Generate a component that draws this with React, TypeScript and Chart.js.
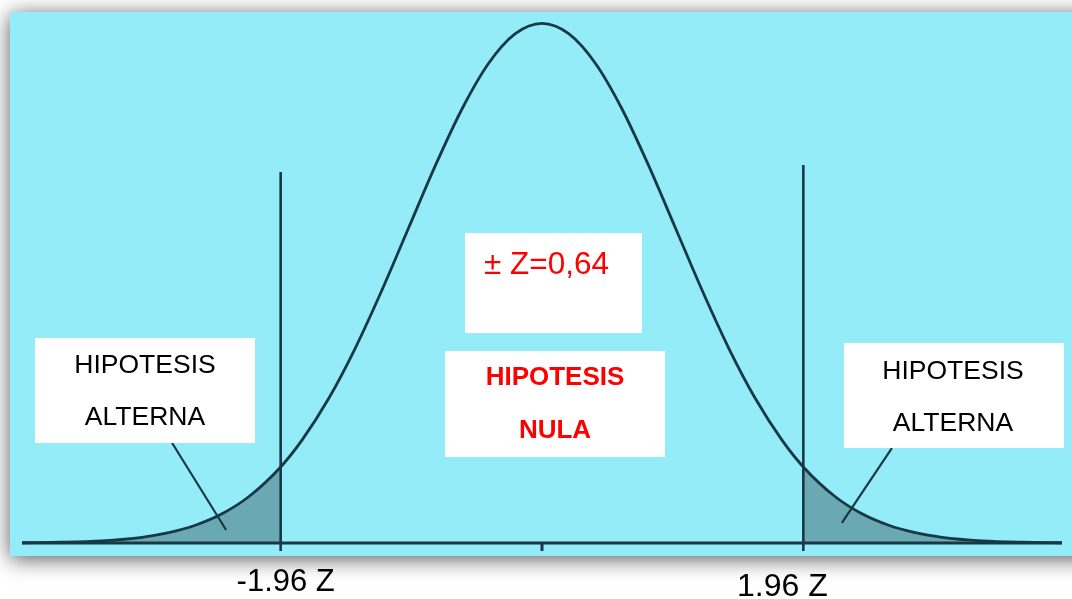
import { useEffect, useRef } from "react";
import { Chart, registerables } from "chart.js";

Chart.register(...registerables);

// ---- data ----
const zValues = [
  -3.9, -3.6, -3.3, -3.0, -2.8, -2.6, -2.4, -2.2, -1.96, -1.8, -1.6, -1.4, -1.2, -1.0, -0.8, -0.6, -0.4, -0.2,
  0,
  0.2, 0.4, 0.6, 0.8, 1.0, 1.2, 1.4, 1.6, 1.8, 1.96, 2.2, 2.4, 2.6, 2.8, 3.0, 3.3, 3.6, 3.9,
];
const density = [
  0.0002, 0.0006, 0.0017, 0.0044, 0.0079, 0.0136, 0.0224, 0.0355, 0.0584, 0.079, 0.1109, 0.1497, 0.1942, 0.242, 0.2897, 0.3332, 0.3683, 0.391,
  0.3989,
  0.391, 0.3683, 0.3332, 0.2897, 0.242, 0.1942, 0.1497, 0.1109, 0.079, 0.0584, 0.0355, 0.0224, 0.0136, 0.0079, 0.0044, 0.0017, 0.0006, 0.0002,
];
const criticalZ = [-1.96, 1.96];
const criticalLabels = ["-1.96 Z", "1.96 Z"];
const criticalLineTop = [0.2848, 0.2902];
const tickBottom = -0.0061;
const leftPointer = [
  { x: -2.774, y: 0.0768 },
  { x: -2.369, y: 0.01 },
];
const rightPointer = [
  { x: 2.624, y: 0.0729 },
  { x: 2.249, y: 0.0154 },
];
const alternaText = ["HIPOTESIS", "ALTERNA"];
const nulaText = ["HIPOTESIS", "NULA"];
const statText = "± Z=0,64";

// ---- styles ----
const BG = "#94ecf8";
const INK = "#163945";
const SHADE = "#6aa8b4";
const FONT = "'Liberation Sans', Arial, sans-serif";

const curve = zValues.map((z, i) => ({ x: z, y: density[i] }));
const leftTail = curve.filter((p) => p.x <= criticalZ[0] + 1e-9);
const rightTail = curve.filter((p) => p.x >= criticalZ[1] - 1e-9);

const bgPlugin = {
  id: "bgPanel",
  beforeDraw(chart: any) {
    const ctx = chart.ctx as CanvasRenderingContext2D;
    ctx.save();
    ctx.fillStyle = "#ffffff";
    ctx.fillRect(0, 0, chart.width, chart.height);
    ctx.shadowColor = "rgba(0,0,0,0.65)";
    ctx.shadowBlur = 20;
    ctx.shadowOffsetX = 0;
    ctx.shadowOffsetY = 3;
    ctx.fillStyle = BG;
    ctx.fillRect(10, 12, 1100, 544);
    ctx.restore();
  },
};

function box(ctx: CanvasRenderingContext2D, x: number, y: number, w: number, h: number) {
  ctx.fillStyle = "#ffffff";
  ctx.fillRect(x, y, w, h);
}

const labelPlugin = {
  id: "labels",
  afterDatasetsDraw(chart: any) {
    const ctx = chart.ctx as CanvasRenderingContext2D;
    const xs = chart.scales.x;
    ctx.save();
    ctx.textBaseline = "alphabetic";

    // left alternative box
    box(ctx, 35, 338, 220, 105);
    ctx.fillStyle = "#000000";
    ctx.textAlign = "center";
    ctx.font = `26.5px ${FONT}`;
    ctx.fillText(alternaText[0], 145, 373);
    ctx.fillText(alternaText[1], 145, 425);

    // right alternative box
    box(ctx, 844, 343, 220, 105);
    ctx.fillStyle = "#000000";
    ctx.fillText(alternaText[0], 953, 379);
    ctx.fillText(alternaText[1], 953, 431);

    // statistic box
    box(ctx, 465, 233, 177, 100);
    ctx.fillStyle = "#ff0000";
    ctx.textAlign = "left";
    ctx.font = `31.5px ${FONT}`;
    ctx.fillText(statText, 484, 274);

    // null box
    box(ctx, 445, 351, 220, 106);
    ctx.fillStyle = "#ff0000";
    ctx.textAlign = "center";
    ctx.font = `bold 26px ${FONT}`;
    ctx.fillText(nulaText[0], 555, 385);
    ctx.fillText(nulaText[1], 555, 438);

    // critical value labels
    ctx.fillStyle = "#000000";
    ctx.font = `31px ${FONT}`;
    ctx.fillText(criticalLabels[0], xs.getPixelForValue(criticalZ[0]) + 5, 591);
    ctx.font = `32px ${FONT}`;
    ctx.fillText(criticalLabels[1], xs.getPixelForValue(criticalZ[1]) - 21, 596);
    ctx.restore();
  },
};

const lineStyle = {
  borderColor: INK,
  pointRadius: 0,
  fill: false,
  clip: false as any,
  tension: 0,
};

export default function App() {
  const ref = useRef<HTMLCanvasElement>(null);
  useEffect(() => {
    document.body.style.margin = "0";
    const chart = new Chart(ref.current!, {
      type: "line",
      data: {
        datasets: [
          {
            data: curve,
            ...lineStyle,
            borderWidth: 2.8,
            cubicInterpolationMode: "monotone",
            order: 1,
          },
          {
            data: [
              { x: zValues[0], y: 0 },
              { x: zValues[zValues.length - 1], y: 0 },
            ],
            ...lineStyle,
            borderWidth: 3,
            order: 2,
          },
          {
            data: [
              { x: criticalZ[0], y: tickBottom },
              { x: criticalZ[0], y: criticalLineTop[0] },
            ],
            ...lineStyle,
            borderWidth: 2.6,
            order: 2,
          },
          {
            data: [
              { x: criticalZ[1], y: tickBottom },
              { x: criticalZ[1], y: criticalLineTop[1] },
            ],
            ...lineStyle,
            borderWidth: 2.6,
            order: 2,
          },
          {
            data: [
              { x: 0, y: tickBottom },
              { x: 0, y: 0 },
            ],
            ...lineStyle,
            borderWidth: 3,
            order: 2,
          },
          { data: leftPointer, ...lineStyle, borderWidth: 2.2, order: 2 },
          { data: rightPointer, ...lineStyle, borderWidth: 2.2, order: 2 },
          {
            data: leftTail,
            borderWidth: 0,
            borderColor: "rgba(0,0,0,0)",
            backgroundColor: SHADE,
            pointRadius: 0,
            fill: "origin",
            cubicInterpolationMode: "monotone",
            order: 5,
          },
          {
            data: rightTail,
            borderWidth: 0,
            borderColor: "rgba(0,0,0,0)",
            backgroundColor: SHADE,
            pointRadius: 0,
            fill: "origin",
            cubicInterpolationMode: "monotone",
            order: 5,
          },
        ] as any,
      },
      options: {
        responsive: false,
        animation: false,
        devicePixelRatio: 1,
        layout: { padding: { left: 22, right: 10, top: 22, bottom: 56 } },
        plugins: {
          legend: { display: false },
          tooltip: { enabled: false },
        },
        scales: {
          x: { type: "linear", min: -3.9, max: 3.9, display: false },
          y: { type: "linear", min: 0, max: 0.4, display: false },
        },
      },
      plugins: [bgPlugin, labelPlugin],
    });
    return () => chart.destroy();
  }, []);
  return (
    <div style={{ width: 1072, height: 599 }}>
      <canvas ref={ref} width={1072} height={599} style={{ display: "block" }} />
    </div>
  );
}
